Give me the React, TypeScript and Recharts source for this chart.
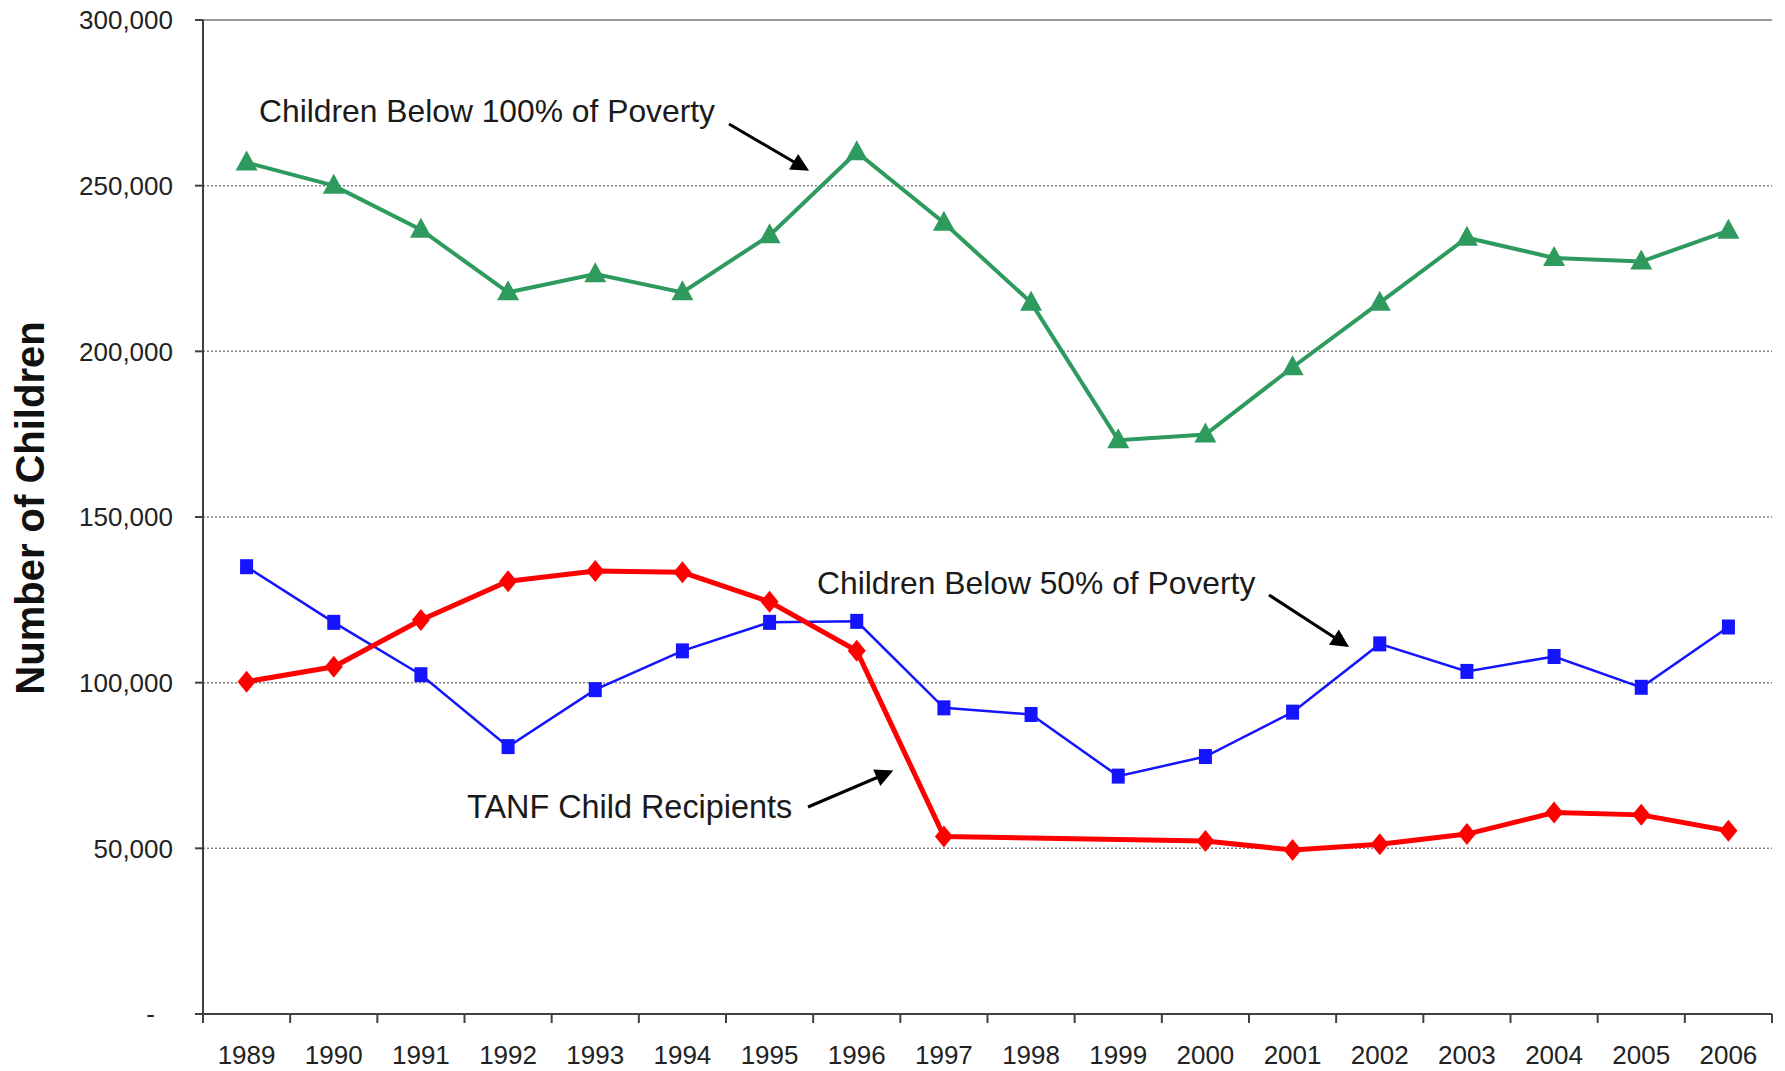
import React from "react";
import {
  LineChart,
  Line,
  XAxis,
  YAxis,
  CartesianGrid,
  ReferenceLine,
  Customized,
} from "recharts";

const years = [
  "1989", "1990", "1991", "1992", "1993", "1994", "1995", "1996", "1997",
  "1998", "1999", "2000", "2001", "2002", "2003", "2004", "2005", "2006",
];

const below100 = [
  257000, 250000, 236700, 217800, 223300, 217800, 235000, 260100, 238800,
  214700, 173200, 174900, 195200, 214700, 234300, 228200, 227100, 236400,
];

const below50 = [
  135000, 118200, 102400, 80700, 97900, 109600, 118200, 118500, 92400,
  90400, 71800, 77700, 91100, 111700, 103400, 107900, 98600, 116800,
];

// no TANF figures for 1998 and 1999
const tanf = [
  100300, 104800, 118900, 130600, 133700, 133300, 124400, 109600, 53600,
  null, null, 52200, 49500, 51200, 54300, 60800, 60100, 55300,
];

const yTicks = [0, 50000, 100000, 150000, 200000, 250000, 300000];

const data = years.map((year, i) => ({
  year,
  below100: below100[i],
  below50: below50[i],
  tanf: tanf[i],
}));

const W = 1785;
const H = 1071;
const MARGIN = { top: 20, right: 13, bottom: 0, left: 0 };
const Y_AXIS_W = 203;
const X_AXIS_H = 57;
const PLOT_W = W - MARGIN.left - MARGIN.right - Y_AXIS_W;
const BAND = PLOT_W / years.length;

const FONT = '"Liberation Sans", Arial, Helvetica, sans-serif';
const GREEN = "#2e9a5e";
const BLUE = "#1414ff";
const RED = "#ff0000";

const Triangle = (props: any) => {
  const { cx, cy, index } = props;
  if (cx == null || cy == null) return <g key={`t${index}`} />;
  return (
    <polygon
      key={`t${index}`}
      points={`${cx},${cy - 12} ${cx - 11},${cy + 8} ${cx + 11},${cy + 8}`}
      fill={GREEN}
    />
  );
};

const Square = (props: any) => {
  const { cx, cy, index } = props;
  if (cx == null || cy == null) return <g key={`s${index}`} />;
  return <rect key={`s${index}`} x={cx - 6.5} y={cy - 7.5} width={13} height={15} fill={BLUE} />;
};

const Diamond = (props: any) => {
  const { cx, cy, index } = props;
  if (cx == null || cy == null) return <g key={`d${index}`} />;
  return (
    <polygon
      key={`d${index}`}
      points={`${cx},${cy - 11} ${cx + 9},${cy} ${cx},${cy + 11} ${cx - 9},${cy}`}
      fill={RED}
    />
  );
};

const YearTick = (props: any) => {
  const { x, y, payload, index } = props;
  const half = BAND / 2;
  return (
    <g>
      <line x1={x - half} x2={x - half} y1={y} y2={y + 9} stroke="#404040" strokeWidth={2} />
      {index === years.length - 1 && (
        <line x1={x + half} x2={x + half} y1={y} y2={y + 9} stroke="#404040" strokeWidth={2} />
      )}
      <text x={x} y={y + 50} textAnchor="middle" fontFamily={FONT} fontSize={26} fill="#222">
        {payload.value}
      </text>
    </g>
  );
};

const ValueTick = (props: any) => {
  const { x, y, payload } = props;
  const v = payload.value as number;
  return (
    <text
      x={v === 0 ? x - 18 : x}
      y={y}
      dy="0.355em"
      textAnchor="end"
      fontFamily={FONT}
      fontSize={26}
      fill="#222"
    >
      {v === 0 ? "-" : v.toLocaleString("en-US")}
    </text>
  );
};

const Arrow = ({ x1, y1, x2, y2 }: { x1: number; y1: number; x2: number; y2: number }) => (
  <line x1={x1} y1={y1} x2={x2} y2={y2} stroke="#000" strokeWidth={3} markerEnd="url(#arrowHead)" />
);

const Annotations = () => (
  <g fontFamily={FONT}>
    <defs>
      <marker
        id="arrowHead"
        viewBox="0 0 10 10"
        refX="8"
        refY="5"
        markerWidth="7.5"
        markerHeight="6"
        orient="auto"
      >
        <path d="M0,0 L10,5 L0,10 z" fill="#000" />
      </marker>
    </defs>
    <text x={30} y={508} transform="rotate(-90 30 508)" textAnchor="middle" dy="0.35em"
      fontSize={40} fontWeight="bold" fill="#111">
      Number of Children
    </text>
    <text x={259} y={122} fontSize={31.8} fill="#1a1a1a">Children Below 100% of Poverty</text>
    <Arrow x1={729} y1={124} x2={806} y2={169} />
    <text x={817} y={594} fontSize={31.8} fill="#1a1a1a">Children Below 50% of Poverty</text>
    <Arrow x1={1269} y1={595} x2={1346} y2={645} />
    <text x={467} y={818} fontSize={32.4} fill="#1a1a1a">TANF Child Recipients</text>
    <Arrow x1={808} y1={807} x2={890} y2={772} />
  </g>
);

export default function App() {
  return (
    <div style={{ position: "absolute", left: 0, top: 0, width: W, height: H, background: "#fff" }}>
      <LineChart width={W} height={H} data={data} margin={MARGIN}>
        <CartesianGrid vertical={false} stroke="#808080" strokeDasharray="2 2" strokeWidth={1.5} />
        <ReferenceLine y={300000} stroke="#9a9a9a" strokeWidth={2} />
        <XAxis
          dataKey="year"
          height={X_AXIS_H}
          interval={0}
          padding={{ left: BAND / 2, right: BAND / 2 }}
          axisLine={{ stroke: "#404040", strokeWidth: 2 }}
          tickLine={false}
          tickSize={0}
          tickMargin={0}
          tick={<YearTick />}
        />
        <YAxis
          width={Y_AXIS_W}
          domain={[0, 300000]}
          ticks={yTicks}
          interval={0}
          axisLine={{ stroke: "#404040", strokeWidth: 2 }}
          tickLine={{ stroke: "#404040", strokeWidth: 2 }}
          tickSize={8}
          tickMargin={22}
          tick={<ValueTick />}
        />
        <YAxis
          yAxisId="right"
          orientation="right"
          width={0}
          domain={[0, 300000]}
          tick={false}
          tickLine={false}
          axisLine={{ stroke: "#9a9a9a", strokeWidth: 2 }}
        />
        <Line
          dataKey="below100"
          stroke={GREEN}
          strokeWidth={4}
          dot={<Triangle />}
          activeDot={false}
          isAnimationActive={false}
        />
        <Line
          dataKey="below50"
          stroke={BLUE}
          strokeWidth={2.5}
          dot={<Square />}
          activeDot={false}
          isAnimationActive={false}
        />
        <Line
          dataKey="tanf"
          stroke={RED}
          strokeWidth={5}
          connectNulls
          dot={<Diamond />}
          activeDot={false}
          isAnimationActive={false}
        />
        <Customized component={Annotations} />
      </LineChart>
    </div>
  );
}
